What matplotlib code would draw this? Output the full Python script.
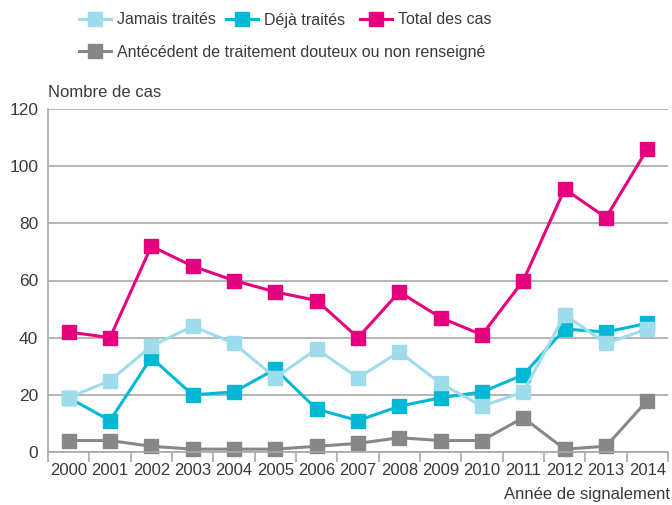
import matplotlib
matplotlib.use("Agg")
import matplotlib.pyplot as plt
from matplotlib.lines import Line2D

plt.rcParams["font.family"] = ["Liberation Sans", "DejaVu Sans"]

# cases per year of notification
years = ["2000", "2001", "2002", "2003", "2004", "2005", "2006", "2007",
         "2008", "2009", "2010", "2011", "2012", "2013", "2014"]
jamais = [19, 25, 37, 44, 38, 26, 36, 26, 35, 24, 16, 21, 48, 38, 43]
deja = [19, 11, 33, 20, 21, 29, 15, 11, 16, 19, 21, 27, 43, 42, 45]
total = [42, 40, 72, 65, 60, 56, 53, 40, 56, 47, 41, 60, 92, 82, 106]
douteux = [4, 4, 2, 1, 1, 1, 2, 3, 5, 4, 4, 12, 1, 2, 18]

series = [
    ("Jamais traités", jamais, "#9edcec", 4),
    ("Déjà traités", deja, "#00b8d4", 3),
    ("Total des cas", total, "#e6007e", 5),
    ("Antécédent de traitement douteux ou non renseigné", douteux, "#878787", 2),
]

TXT = "#3a3a3a"
GRID = "#a8a8a8"

fig = plt.figure(figsize=(6.72, 5.05), dpi=100)
ax = fig.add_axes([48 / 672, 1 - 452 / 505, 620 / 672, 343 / 505])

x = list(range(len(years)))
handles = []
for label, vals, col, z in series:
    ax.plot(x, vals, color=col, lw=2.2, marker="s", ms=10, mec=col, mfc=col,
            zorder=z, clip_on=False)
    handles.append(Line2D([], [], color=col, lw=2.2, marker="s", ms=10, label=label))

ax.set_xlim(-0.5, len(years) - 0.5)
ax.set_ylim(0, 120)
ax.set_yticks(range(0, 121, 20))
ax.grid(axis="y", color=GRID, lw=1.2)
ax.set_axisbelow(True)
for s in ["top", "right"]:
    ax.spines[s].set_visible(False)
for s in ["left", "bottom"]:
    ax.spines[s].set_color(GRID)
    ax.spines[s].set_linewidth(1.2)

ax.set_xticks(x)
ax.set_xticklabels(years)
ax.set_xticks([i - 0.5 for i in range(len(years) + 1)], minor=True)
ax.tick_params(axis="x", which="major", length=0, pad=8, labelsize=12, labelcolor=TXT)
ax.tick_params(axis="x", which="minor", length=7, width=1.2, color=GRID, direction="out")
ax.tick_params(axis="y", length=0, pad=7, labelsize=12.5, labelcolor=TXT)

fig.text(48 / 672, 1 - 93 / 505, "Nombre de cas", ha="left", va="center",
         fontsize=12, color=TXT)
fig.text(670 / 672, 1 - 495 / 505, "Année de signalement", ha="right", va="center",
         fontsize=12, color=TXT)

# one legend per entry so each sits at its own column position
leg_kw = dict(frameon=False, fontsize=11.5, labelcolor=TXT, handlelength=2.0,
              handletextpad=0.4, borderpad=0, borderaxespad=0, loc="center left")
legend_pos = [(79, 20), (226, 20), (360, 20), (79, 52)]
for h, (px, py) in zip(handles, legend_pos):
    fig.legend(handles=[h], bbox_to_anchor=(px / 672, 1 - py / 505), **leg_kw)

fig.savefig("out.png", dpi=100)
